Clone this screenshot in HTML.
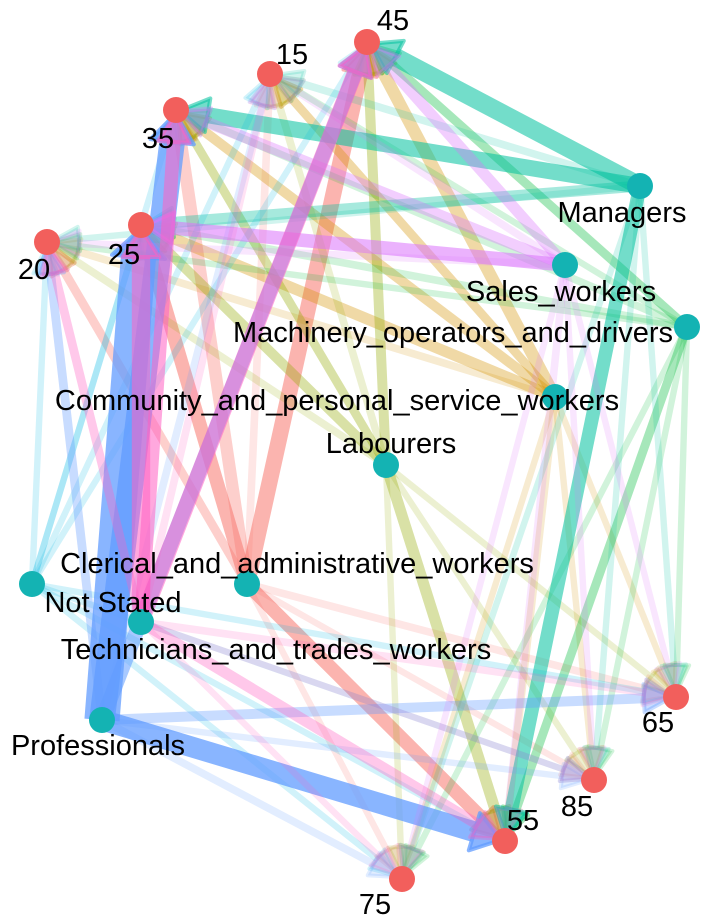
<!DOCTYPE html>
<html><head><meta charset="utf-8"><style>
html,body{margin:0;padding:0;background:#fff}
svg{display:block}
text{font-family:"Liberation Sans",Arial,sans-serif;font-size:29px;fill:#000}
</style></head><body>
<svg id="chart" width="720" height="921">
<g id="edges"></g>
<g id="nodes"></g>
<g id="labels"></g>
</svg>
<script>
const ageNames=["15","20","25","35","45","55","65","75","85"];
const ageX=[270,47,141,176,367,505,676,402,594];
const ageY=[74,242,225,110,42,841,697,879,780];
const ageLabelX=[292,34,124,158,393,523,658,375,577];
const ageLabelY=[62,277,262,146,28,828,730,912,814];
const occNames=["Clerical_and_administrative_workers","Community_and_personal_service_workers","Labourers","Machinery_operators_and_drivers","Managers","Not Stated","Professionals","Sales_workers","Technicians_and_trades_workers"];
const occX=[247,555,386,687,640,32,102,565,141];
const occY=[584,397,465,327,186,584,720,265,622];
const occLabelX=[297,337,391,453,622,113,98,561,276];
const occLabelY=[571,408,451,340,220,610,753,299,657];
const occColors=["#F8766D","#D39200","#93AA00","#00BA38","#00C19F","#00B9E3","#619CFF","#DB72FB","#FF61C3"];
// weights: rows occupations, columns ages (15,20,25,35,45,55,65,75,85)
const wClerical=[3,4,8,7,10,8,3,2,2];
const wCommunity=[4,3,6,5,7,3,2,2,2];
const wLabourers=[3,3,5,4,5,6,2,2,2];
const wMachinery=[2,2,3,3,4,4,2,2,2];
const wManagers=[3,2,6,10,12,8,2,2,2];
const wNotStated=[2,2,2,2,2,2,2,2,2];
const wProfessionals=[3,4,26,18,9,14,5,3,2];
const wSales=[3,3,8,6,6,3,2,2,2];
const wTechnicians=[3,4,12,8,10,6,3,2,2];
const weights=[wClerical,wCommunity,wLabourers,wMachinery,wManagers,wNotStated,wProfessionals,wSales,wTechnicians];
const NS="http://www.w3.org/2000/svg";
const eg=document.getElementById('edges'),ng=document.getElementById('nodes'),lg=document.getElementById('labels');
for(let i=0;i<occNames.length;i++){for(let j=0;j<ageNames.length;j++){
 const w=weights[i][j];
 const sw=w*1.2+4;
 const op=w>=14?0.75:(w>=8?0.55:(w>=4?0.35:0.18));
 const k='edge-'+occNames[i].toLowerCase().replace(/[^a-z]+/g,'-')+'-'+ageNames[j];
 const x1=occX[i],y1=occY[i],x2=ageX[j],y2=ageY[j];
 const dx=x2-x1,dy=y2-y1,L=Math.hypot(dx,dy),ux=dx/L,uy=dy/L;
 const tipX=x2-ux*4,tipY=y2-uy*4,al=28,bx=tipX-ux*al,by=tipY-uy*al,hw=sw/2+9;
 const l=document.createElementNS(NS,'line');
 l.setAttribute('x1',x1);l.setAttribute('y1',y1);
 l.setAttribute('x2',bx);l.setAttribute('y2',by);
 l.setAttribute('stroke',occColors[i]);
 l.setAttribute('stroke-width',sw);
 l.setAttribute('stroke-opacity',op);
 
 
 eg.appendChild(l);
 const p=document.createElementNS(NS,'polygon');
 p.setAttribute('points',`${tipX},${tipY} ${bx-uy*hw},${by+ux*hw} ${bx+uy*hw},${by-ux*hw}`);
 p.setAttribute('fill',occColors[i]);
 p.setAttribute('fill-opacity',op);
 p.setAttribute('stroke',occColors[i]);
 p.setAttribute('stroke-opacity',op);
 p.setAttribute('stroke-width',4);
 p.setAttribute('stroke-linejoin','round');
 
 
 eg.appendChild(p);
}}
function node(x,y,c,name){const e=document.createElementNS(NS,'circle');e.setAttribute('cx',x);e.setAttribute('cy',y);e.setAttribute('r',13);e.setAttribute('fill',c);
 
 
 ng.appendChild(e);}
function label(x,y,t,name){const e=document.createElementNS(NS,'text');e.setAttribute('x',x);e.setAttribute('y',y);e.setAttribute('text-anchor','middle');e.textContent=t;
 
 
 lg.appendChild(e);}
for(let i=0;i<occNames.length;i++){const k=occNames[i].toLowerCase().replace(/[^a-z]+/g,'-');node(occX[i],occY[i],'#14B3B3','node-'+k);label(occLabelX[i],occLabelY[i]+2,occNames[i],'label-'+k);}
for(let j=0;j<ageNames.length;j++){node(ageX[j],ageY[j],'#F25F5C','node-age-'+ageNames[j]);label(ageLabelX[j],ageLabelY[j]+2,ageNames[j],'label-age-'+ageNames[j]);}
</script>
</body></html>
